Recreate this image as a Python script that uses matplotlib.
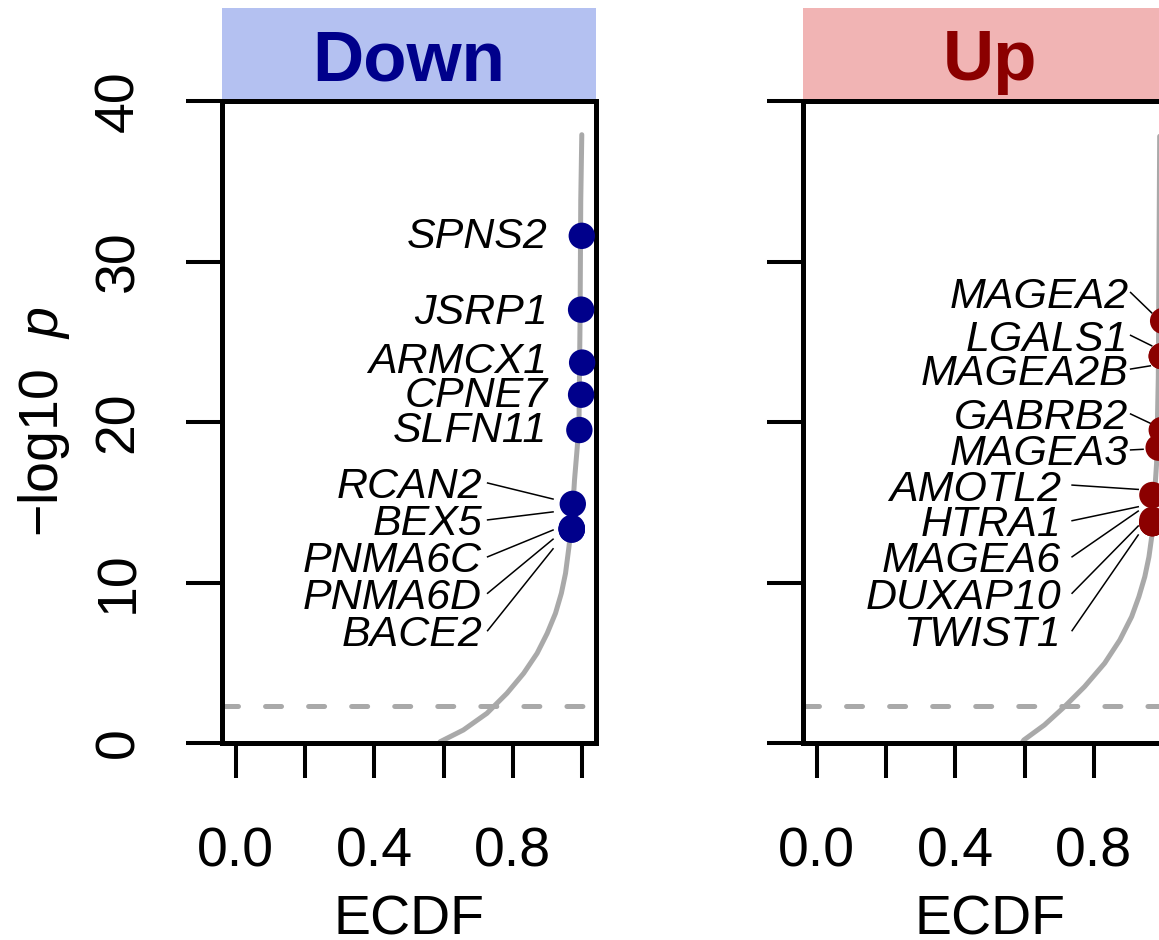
#!/usr/bin/env python3
# -*- coding: utf-8 -*-
"""
    ECDF of -log10 p for down- and up-regulated genes, one panel each.
"""

import matplotlib
matplotlib.use('Agg')
import matplotlib.pyplot as plt
from matplotlib.patches import Rectangle

# gray ECDF curves (ECDF, -log10 p)
down_curve_x = [0.588, 0.590, 0.657, 0.725, 0.783, 0.831, 0.870, 0.899,
                0.923, 0.940, 0.952, 0.962, 0.972, 0.978, 0.986, 0.991,
                0.994, 0.996, 0.999]
down_curve_y = [0.0, 0.08, 0.81, 1.85, 3.10, 4.34, 5.59, 6.83,
                8.08, 9.33, 10.57, 12.23, 14.31, 16.39, 18.46, 20.12,
                26.4, 33.8, 37.9]
up_curve_x = [0.592, 0.598, 0.657, 0.715, 0.773, 0.831, 0.875, 0.909,
              0.930, 0.947, 0.959, 0.967, 0.981, 0.986, 0.990]
up_curve_y = [0.0, 0.19, 1.12, 2.26, 3.51, 4.97, 6.42, 7.87,
              9.12, 10.36, 11.6, 12.85, 17.4, 22.8, 37.8]

cutoff = 2.3

down_genes = ['SPNS2', 'JSRP1', 'ARMCX1', 'CPNE7', 'SLFN11',
              'RCAN2', 'BEX5', 'PNMA6C', 'PNMA6D', 'BACE2']
down_ecdf = [0.999, 0.997, 1.000, 0.997, 0.992,
             0.973, 0.970, 0.970, 0.970, 0.970]
down_logp = [31.6, 27.0, 23.7, 21.7, 19.5,
             14.9, 13.4, 13.35, 13.3, 13.3]

up_genes = ['MAGEA2', 'LGALS1', 'MAGEA2B', 'GABRB2', 'MAGEA3',
            'AMOTL2', 'HTRA1', 'MAGEA6', 'DUXAP10', 'TWIST1']
up_ecdf = [1.000, 0.996, 0.996, 0.996, 0.987,
           0.969, 0.969, 0.969, 0.969, 0.969]
up_logp = [26.3, 24.1, 24.1, 19.5, 18.4,
           15.45, 13.9, 13.7, 13.7, 13.7]

x_ticks = [0.0, 0.2, 0.4, 0.6, 0.8, 1.0]
x_ticklabels = ['0.0', '', '0.4', '', '0.8', '']
y_ticks = [0, 10, 20, 30, 40]

# label placement (text right end x, centre y; leader from/to), None = no leader
down_lab_x = [0.900] * 5 + [0.711] * 5
down_lab_y = [31.8, 27.1, 24.0, 21.9, 19.75, 16.2, 13.9, 11.6, 9.33, 7.0]
down_lead_x0 = [None] * 5 + [0.727] * 5
down_lead_x1 = [None] * 5 + [0.916] * 5
down_lead_y1 = [None] * 5 + [15.2, 14.4, 13.27, 12.7, 12.1]

up_lab_x = [0.900] * 5 + [0.705] * 5
up_lab_y = [28.07, 25.4, 23.3, 20.5, 18.26, 16.07, 13.85, 11.6, 9.33, 7.0]
up_lead_x0 = [0.906] * 5 + [0.737] * 5
up_lead_x1 = [0.967, 0.967, 0.963, 0.965, 0.942] + [0.928] * 5
up_lead_y1 = [26.8, 24.75, 23.5, 19.9, 18.3, 15.8, 14.72, 14.45, 13.52, 12.96]

plt.rcParams['font.family'] = ['Liberation Sans', 'DejaVu Sans']
plt.rcParams['mathtext.fontset'] = 'custom'
plt.rcParams['mathtext.rm'] = 'Liberation Sans'
plt.rcParams['mathtext.it'] = 'Liberation Sans:italic'
plt.rcParams['lines.scale_dashes'] = False

GRAY = '#A9A9A9'


def draw_panel(ax, title, strip_col, dot_col, curve_x, curve_y,
               genes, ecdf, logp, lab_x, lab_y, lx0, lx1, ly1, ylabels=True):
    '''
        One R-style panel: box, strip on top, curve, cutoff, points, labels.
    '''
    ax.set_xlim(-0.04, 1.04)
    ax.set_ylim(0, 40)
    for sp in ax.spines.values():
        sp.set_linewidth(3.6)
        sp.set_capstyle('projecting')

    ax.plot(curve_x, curve_y, color=GRAY, lw=3.6, solid_capstyle='round',
            solid_joinstyle='round', clip_on=False, zorder=2)
    ax.axhline(cutoff, color=GRAY, lw=3.6, dashes=(11.5, 19.5),
               dash_capstyle='round', zorder=2)

    for i, g in enumerate(genes):
        if lx0[i] is not None:
            ax.plot([lx0[i], lx1[i]], [lab_y[i], ly1[i]], color='black',
                    lw=1.1, zorder=3)
        ax.text(lab_x[i], lab_y[i], g, ha='right', va='center_baseline',
                fontsize=31, fontstyle='italic', zorder=5)
    ax.scatter(ecdf, logp, s=19 ** 2, color=dot_col, edgecolors='none',
               clip_on=False, zorder=4)

    ax.set_xticks(x_ticks)
    ax.set_xticklabels(x_ticklabels)
    ax.set_yticks(y_ticks)
    if ylabels:
        ax.set_yticklabels([str(v) for v in y_ticks])
        for lab in ax.get_yticklabels():
            lab.set_rotation(90)
            lab.set_ha('center')
            lab.set_va('center')
    else:
        ax.set_yticklabels([])
    ax.tick_params(axis='x', direction='out', length=25, width=2.9,
                   pad=35, labelsize=40)
    ax.tick_params(axis='y', direction='out', length=26, width=2.9,
                   pad=48, labelsize=40)

    ax.set_xlabel('ECDF', fontsize=40, va='baseline')
    ax.xaxis.set_label_coords(0.5, -0.299)
    if ylabels:
        ax.set_ylabel('\u2212log10  $\\mathit{p}$', fontsize=40, va='baseline')
        ax.yaxis.set_label_coords(-0.4385, 0.5)

    ax.add_patch(Rectangle((0, 1.0), 1, 0.1449, transform=ax.transAxes,
                           facecolor=strip_col, edgecolor='none',
                           clip_on=False, zorder=0))
    ax.text(0.5, 1.0327, title, transform=ax.transAxes, ha='center',
            va='baseline', fontsize=51, fontweight='bold', color=dot_col)


fig = plt.figure(figsize=(11.59, 9.40), dpi=100)
ax1 = fig.add_axes([0.19154, 0.20957, 0.32269, 0.68298])
ax2 = fig.add_axes([0.69284, 0.20957, 0.32269, 0.68298])

draw_panel(ax1, 'Down', '#B4C1F1', '#00008B', down_curve_x, down_curve_y,
           down_genes, down_ecdf, down_logp, down_lab_x, down_lab_y,
           down_lead_x0, down_lead_x1, down_lead_y1)
draw_panel(ax2, 'Up', '#F1B4B4', '#8B0000', up_curve_x, up_curve_y,
           up_genes, up_ecdf, up_logp, up_lab_x, up_lab_y,
           up_lead_x0, up_lead_x1, up_lead_y1, ylabels=False)

fig.savefig('out.png', dpi=100)
